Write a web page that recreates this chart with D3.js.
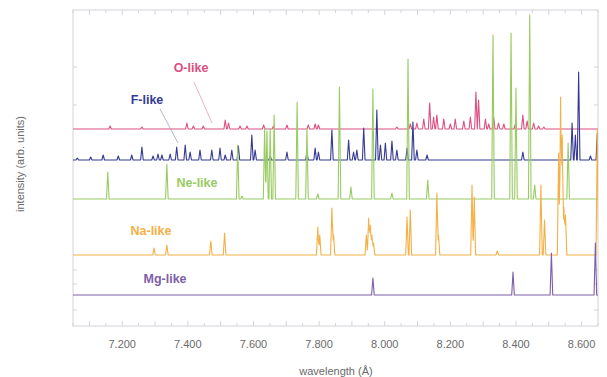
<!DOCTYPE html>
<html>
<head>
<meta charset="utf-8">
<script src="https://cdn.jsdelivr.net/npm/d3@7"></script>
<style>
  body { margin: 0; background: #fff; }
  text { font-family: "Liberation Sans", Arial, sans-serif; }
</style>
</head>
<body>
<div id="chart"></div>
<script>
// ---------- data (wavelength in Å, peak height in arb. units) ----------
const xDomain = [7.05, 8.65];
const xTickVals = [7.2, 7.4, 7.6, 7.8, 8.0, 8.2, 8.4, 8.6];
const sideTickVals = [16, 42, 56, 221, 259];

const seriesNames = ["O-like", "F-like", "Ne-like", "Na-like", "Mg-like"];
const seriesColors = ["#dc4f82", "#343a94", "#98cb62", "#f4af45", "#7d5ea8"];
const seriesOffsets = [197, 166, 127, 71, 31];

const oPeaks = [[7.163,3],[7.260,2],[7.397,6],[7.417,3],[7.447,3],[7.514,9],[7.524,6],[7.559,3],[7.580,3],
  [7.631,4],[7.661,3],[7.702,4],[7.767,4],[7.788,5],[7.798,4],[8.037,2],[8.078,5],[8.098,6],[8.119,10],
  [8.137,26],[8.149,12],[8.159,14],[8.180,10],[8.200,5],[8.215,10],[8.241,8],[8.261,12],[8.278,37],
  [8.286,29],[8.307,10],[8.317,5],[8.332,12],[8.347,6],[8.363,5],[8.398,5],[8.421,14],[8.434,8],
  [8.454,6],[8.469,3],[8.485,2]];
const fPeaks = [[7.063,2],[7.104,3],[7.142,5],[7.188,4],[7.229,5],[7.260,13],[7.294,4],[7.309,6],[7.321,5],
  [7.346,6],[7.366,13],[7.392,15],[7.407,8],[7.437,10],[7.473,10],[7.498,12],[7.514,5],[7.534,10],
  [7.554,14],[7.595,25],[7.605,10],[7.651,4],[7.702,8],[7.763,8],[7.788,12],[7.798,8],[7.839,30],
  [7.890,20],[7.905,8],[7.915,10],[7.936,32],[7.976,50],[7.987,15],[8.002,17],[8.022,19],[8.037,10],
  [8.068,12],[8.086,38],[8.098,10],[8.129,5],[8.421,8],[8.571,37],[8.581,25],[8.591,88],[8.627,4],[8.648,27]];
const nePeaks = [[7.156,27],[7.336,35],[7.552,54],[7.565,3],[7.634,71],[7.641,68],[7.651,70],[7.663,84],
  [7.733,97],[7.763,71],[7.796,5],[7.862,112],[7.897,12],[7.964,110],[8.022,6],[8.071,140],[8.131,19],
  [8.330,164],[8.385,166],[8.400,111],[8.442,184],[8.457,14],[8.559,56]];
const naPeaks = [[7.297,7],[7.336,10],[7.470,14],[7.512,22],[7.796,28],[7.802,20],[7.839,47],[7.844,20],
  [7.944,20],[7.951,37],[7.956,30],[7.961,20],[7.966,12],[8.068,38],[8.078,45],[8.159,62],[8.164,20],
  [8.266,70],[8.273,58],[8.343,4],[8.476,70],[8.487,35],[8.530,102],[8.536,158],[8.541,120],[8.546,48],
  [8.551,40],[8.648,125]];
const mgPeaks = [[7.964,17],[8.391,23],[8.508,42],[8.642,52]];

const allPeaks = [oPeaks, fPeaks, nePeaks, naPeaks, mgPeaks];

// ---------- set-up ----------
const W = 607, H = 377;
const margin = {left: 73, top: 10, right: 9, bottom: 51};
const width = W - margin.left - margin.right,
      height = H - margin.top - margin.bottom;
const halfWidth = 0.004; // line half width in Å

const x = d3.scaleLinear().domain(xDomain).range([0, width]);
const y = d3.scaleLinear().domain([0, 316]).range([height, 0]);

const svg = d3.select("#chart").append("svg")
    .attr("width", W).attr("height", H);

const g = svg.append("g")
    .attr("transform", "translate(" + margin.left + "," + margin.top + ")");

g.append("clipPath").attr("id", "clip")
  .append("rect").attr("width", width).attr("height", height);

// frame
g.append("rect")
  .attr("width", width).attr("height", height)
  .attr("fill", "none").attr("stroke", "#d2d2dc").attr("stroke-width", 1);

// ticks top + bottom
const minor = d3.range(7.05, 8.651, 0.05);
[0, height].forEach(function(yy) {
  const dir = yy === 0 ? 1 : -1;
  g.selectAll(null).data(minor).enter().append("line")
    .attr("x1", d => x(d)).attr("x2", d => x(d))
    .attr("y1", yy).attr("y2", d => yy + dir * (Math.abs(Math.round(d * 10) - d * 10) < 1e-6 ? 5 : 3))
    .attr("stroke", "#d2d2dc");
});
// side ticks
[0, width].forEach(function(xx) {
  const dir = xx === 0 ? 1 : -1;
  g.selectAll(null).data(sideTickVals).enter().append("line")
    .attr("x1", xx).attr("x2", xx + dir * 4)
    .attr("y1", d => y(d)).attr("y2", d => y(d))
    .attr("stroke", "#d2d2dc");
});

// tick labels
g.selectAll(".xlab").data(xTickVals).enter().append("text")
  .attr("x", d => x(d)).attr("y", height + 22)
  .attr("text-anchor", "middle")
  .attr("font-size", 11).attr("fill", "#6a6a6a")
  .text(d => d3.format(".3f")(d));

// axis titles
svg.append("text")
  .attr("x", 336).attr("y", 375)
  .attr("text-anchor", "middle").attr("font-size", 11).attr("fill", "#6a6a6a")
  .text("wavelength (Å)");
svg.append("text")
  .attr("transform", "translate(24,164) rotate(-90)")
  .attr("text-anchor", "middle").attr("font-size", 11).attr("fill", "#6a6a6a")
  .text("intensity (arb. units)");

// ---------- spectra ----------
function profile(peaks, offset) {
  const xs = [xDomain[0], xDomain[1]];
  peaks.forEach(p => { xs.push(p[0] - halfWidth, p[0], p[0] + halfWidth); });
  xs.sort((a, b) => a - b);
  return xs.map(function(l) {
    let v = 0;
    peaks.forEach(function(p) {
      const t = 1 - Math.abs(l - p[0]) / halfWidth;
      if (t > 0) v = Math.max(v, p[1] * t);
    });
    return [l, offset + v];
  });
}

const line = d3.line().x(d => x(d[0])).y(d => y(d[1]));

const spectra = g.append("g").attr("clip-path", "url(#clip)");
allPeaks.forEach(function(peaks, i) {
  spectra.append("path")
    .attr("d", line(profile(peaks, seriesOffsets[i])))
    .attr("fill", "none")
    .attr("stroke", seriesColors[i])
    .attr("stroke-width", 1.1)
    .attr("stroke-linejoin", "round");
});

// ---------- labels ----------
const labelPos = [[191, 72], [147, 104], [197, 187], [151, 235], [165, 283]];
seriesNames.forEach(function(n, i) {
  svg.append("text")
    .attr("x", labelPos[i][0]).attr("y", labelPos[i][1])
    .attr("text-anchor", "middle")
    .attr("font-size", 12.5).attr("font-weight", "bold")
    .attr("fill", seriesColors[i])
    .text(n);
});
// leader lines
svg.append("line").attr("x1", 194).attr("y1", 82).attr("x2", 212).attr("y2", 123)
  .attr("stroke", "#e6a0b8").attr("stroke-width", 0.8);
svg.append("line").attr("x1", 160).attr("y1", 109).attr("x2", 178).attr("y2", 143)
  .attr("stroke", "#a0a3c0").attr("stroke-width", 0.8);
</script>
</body>
</html>
